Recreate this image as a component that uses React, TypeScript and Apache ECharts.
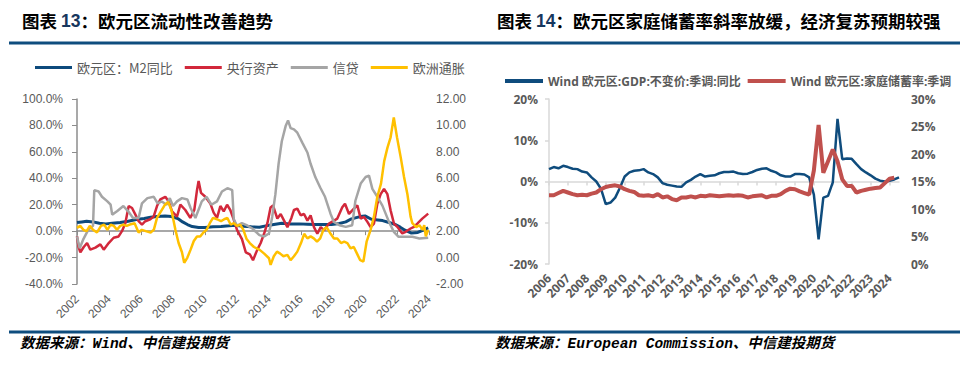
import React, { useEffect, useRef } from 'react';
import * as echarts from 'echarts';

// ---------- Chart 13 data (x = year position, value) ----------
const m2Yoy: [number, number][] = [
  [2002.0, 6.5], [2002.3, 7.0], [2002.6, 7.5], [2003.0, 7.0], [2003.4, 6.0], [2003.8, 5.5],
  [2004.2, 6.0], [2004.7, 6.5], [2005.2, 7.5], [2005.7, 8.75], [2006.2, 9.5], [2006.6, 10.5],
  [2007.0, 11.0], [2007.5, 11.5], [2007.9, 11.0], [2008.3, 9.5], [2008.6, 7.0], [2008.9, 5.0],
  [2009.2, 3.5], [2009.6, 2.75], [2010.0, 2.75], [2010.5, 3.25], [2011.0, 3.5], [2011.5, 4.0],
  [2011.9, 4.5], [2012.4, 3.75], [2012.9, 3.25], [2013.4, 3.0], [2013.8, 4.0], [2014.3, 5.0],
  [2014.8, 6.0], [2015.3, 5.5], [2015.9, 5.5], [2016.4, 5.25], [2016.9, 5.0], [2017.4, 5.0],
  [2017.9, 5.0], [2018.4, 5.75], [2018.8, 7.0], [2019.1, 9.0], [2019.4, 10.0], [2019.7, 11.0],
  [2020.0, 11.5], [2020.4, 9.0], [2020.8, 8.5], [2021.1, 8.0], [2021.5, 6.5], [2021.9, 5.0],
  [2022.2, 3.0], [2022.5, 0.75], [2022.9, -1.5], [2023.3, -1.0], [2023.6, 0.5], [2023.95, 2.5],
];

const cbAssets: [number, number][] = [
  [2002.0, -4], [2002.1, -12], [2002.21, -16], [2002.42, -12], [2002.63, -9], [2002.83, -14],
  [2003.15, -12.5], [2003.46, -10], [2003.67, -14], [2003.98, -9], [2004.29, -5], [2004.6, -4],
  [2004.81, 0], [2005.02, 6], [2005.23, 19], [2005.44, 17.5], [2005.65, 12.5], [2005.85, 7.5],
  [2006.06, 5], [2006.27, 7.5], [2006.58, 9], [2006.79, 11], [2007.0, 19], [2007.21, 24],
  [2007.52, 26], [2007.73, 22.5], [2007.94, 15], [2008.25, 11], [2008.46, 20], [2008.77, 16],
  [2009.08, 10], [2009.33, 16], [2009.5, 31], [2009.6, 38], [2009.75, 29], [2010.02, 26],
  [2010.33, 21], [2010.54, 14], [2010.75, 10], [2010.96, 19], [2011.17, 15], [2011.38, 20],
  [2011.58, 16], [2011.79, 9], [2012.0, 1], [2012.31, -6], [2012.55, -16], [2012.8, -17.5],
  [2013.0, -22], [2013.27, -14], [2013.48, -9], [2013.69, -2], [2013.9, 6], [2014.1, 18],
  [2014.25, 19.5], [2014.52, 9.5], [2014.73, 13], [2014.94, 8], [2015.15, 3], [2015.4, 10],
  [2015.56, 16], [2015.77, 17], [2015.98, 12], [2016.19, 13], [2016.4, 8], [2016.6, 12],
  [2016.81, 3], [2017.02, -2], [2017.23, 3], [2017.44, 0.75], [2017.75, 5.75], [2018.06, 8],
  [2018.27, 9.5], [2018.58, 18], [2018.75, 20.75], [2019.0, 13], [2019.31, 17], [2019.52, 19.5],
  [2019.73, 9.5], [2019.94, 10.75], [2020.15, 7], [2020.35, 3], [2020.56, 5.75], [2020.77, 20.75],
  [2020.98, 28], [2021.19, 32], [2021.4, 28], [2021.6, 15.75], [2021.81, 5.75], [2022.02, 3.25],
  [2022.33, -1.75], [2022.54, -0.5], [2022.85, 2], [2023.06, 3.25], [2023.27, 5.75], [2023.58, 9.5],
  [2023.95, 13.25],
];

const credit: [number, number][] = [
  [2002.0, -4], [2002.17, -13], [2002.4, -6], [2002.7, 1], [2003.0, 4], [2003.08, 31],
  [2003.35, 30], [2003.56, 26], [2003.9, 22.5], [2004.1, 20], [2004.2, 12.5], [2004.5, 15],
  [2004.9, 19], [2005.2, 15], [2005.5, 10], [2005.85, 10], [2006.06, 21], [2006.4, 25],
  [2006.8, 26], [2007.04, 21], [2007.3, 22.5], [2007.6, 20], [2007.8, 25], [2008.0, 19],
  [2008.25, 22.5], [2008.56, 25], [2008.9, 24], [2009.1, 17.5], [2009.4, 10], [2009.8, 22.5],
  [2010.1, 26], [2010.4, 20], [2010.75, 22.5], [2011.06, 30], [2011.4, 32.5], [2011.7, 31],
  [2011.8, 9], [2012.0, 4], [2012.3, 6], [2012.6, 4.5], [2012.96, 2], [2013.4, -3],
  [2013.7, -4], [2014.0, -1.75], [2014.2, 10.75], [2014.4, 28], [2014.6, 51], [2014.8, 68],
  [2015.04, 79.5], [2015.19, 83.75], [2015.35, 78], [2015.56, 77], [2015.77, 74.5], [2016.08, 67],
  [2016.4, 59.5], [2016.6, 51], [2016.9, 40.75], [2017.2, 33], [2017.5, 26], [2017.85, 13],
  [2018.06, 7], [2018.4, 4.5], [2018.8, 3.25], [2019.2, 4.5], [2019.4, 23], [2019.73, 36],
  [2020.04, 41], [2020.25, 42], [2020.46, 32], [2020.77, 26], [2021.08, 19.5], [2021.5, 7],
  [2021.8, -0.5], [2022.1, -4.25], [2022.55, -4.25], [2022.96, -4.25], [2023.4, -5.5], [2023.95, -5],
];

const hicp: [number, number][] = [
  [2002.0, 2.25], [2002.2, 2.4], [2002.4, 2.1], [2002.6, 2.0], [2002.8, 2.4], [2003.0, 2.1],
  [2003.25, 1.9], [2003.5, 2.4], [2003.7, 2.5], [2003.9, 2.1], [2004.1, 2.5], [2004.3, 2.4],
  [2004.5, 2.1], [2004.7, 2.4], [2004.9, 2.5], [2005.1, 2.4], [2005.3, 2.5], [2005.6, 2.6],
  [2005.85, 1.9], [2006.05, 2.1], [2006.3, 2.0], [2006.6, 1.9], [2006.8, 2.1], [2007.0, 3.0],
  [2007.2, 3.4], [2007.5, 4.0], [2007.7, 4.2], [2007.9, 3.6], [2008.15, 2.1], [2008.35, 1.1],
  [2008.56, 0.4], [2008.7, -0.4], [2008.9, 0.0], [2009.1, 0.6], [2009.3, 1.25], [2009.5, 1.6],
  [2009.7, 1.6], [2009.9, 1.9], [2010.1, 2.1], [2010.3, 2.6], [2010.5, 3.0], [2010.75, 2.9],
  [2011.0, 2.75], [2011.2, 2.9], [2011.4, 3.0], [2011.6, 2.5], [2011.8, 2.6], [2012.0, 2.4],
  [2012.2, 2.5], [2012.4, 2.1], [2012.6, 1.4], [2012.8, 1.1], [2013.06, 0.8], [2013.4, 0.6],
  [2013.7, 0.3], [2014.0, -0.05], [2014.1, -0.55], [2014.3, 0.1], [2014.5, 0.45], [2014.7, 0.3],
  [2014.9, 0.1], [2015.15, 0.2], [2015.35, -0.2], [2015.56, 0.1], [2015.77, 0.45], [2016.0, 1.1],
  [2016.2, 1.8], [2016.4, 1.45], [2016.6, 1.6], [2016.8, 1.45], [2017.0, 1.2], [2017.2, 1.45],
  [2017.4, 2.1], [2017.6, 2.3], [2017.85, 1.8], [2018.06, 1.45], [2018.27, 1.45], [2018.5, 1.1],
  [2018.7, 1.2], [2018.9, 1.1], [2019.1, 0.7], [2019.3, 0.8], [2019.5, 0.3], [2019.7, -0.2],
  [2019.9, -0.3], [2020.1, 1.2], [2020.35, 2.1], [2020.56, 3.1], [2020.77, 4.6], [2021.0, 5.6],
  [2021.2, 7.3], [2021.4, 8.3], [2021.6, 9.1], [2021.8, 10.6], [2022.0, 9.1], [2022.23, 7.6],
  [2022.44, 6.1], [2022.65, 4.8], [2022.85, 3.1], [2022.96, 2.6], [2023.2, 2.3], [2023.4, 2.45],
  [2023.6, 2.1], [2023.7, 2.45], [2023.8, 1.6], [2023.95, 2.1],
];

// ---------- Chart 14 data (quarterly from 2006Q1) ----------
const gdpYearLabels = [2006, 2007, 2008, 2009, 2010, 2011, 2012, 2013, 2014, 2015, 2016, 2017, 2018, 2019, 2020, 2021, 2022, 2023, 2024];
const gdpYoy = [
  3.0, 3.5, 3.2, 3.8, 3.5, 3.1, 3.0, 2.4, 2.2, 1.0, 0.0, -1.8, -5.5, -5.1, -3.9, -1.5,
  1.2, 2.2, 2.6, 2.7, 3.0, 2.2, 1.8, 1.0, -0.4, -0.8, -1.0, -1.2, -1.3, -0.2, 0.4, 1.2,
  1.8, 1.2, 1.4, 1.5, 2.0, 2.3, 2.3, 2.4, 2.0, 1.8, 1.9, 2.3, 2.8, 3.1, 3.2, 2.6,
  2.2, 1.5, 1.2, 1.2, 1.8, 1.8, 1.7, 1.0, -3.2, -14.0, -3.9, -3.5, -0.2, 15.2, 5.4, 5.6,
  5.5, 4.2, 3.0, 2.2, 1.5, 0.7, 0.2, 0.0, 0.2, 0.5, 1.0,
];
const savingRate = [
  12.5, 12.5, 12.9, 13.3, 13.0, 12.7, 12.5, 12.6, 12.5, 12.8, 13.0, 13.6, 14.0, 14.2, 14.3, 14.1,
  13.6, 13.3, 13.1, 12.5, 12.4, 12.5, 12.3, 12.7, 12.1, 12.3, 11.8, 11.6, 12.1, 12.1, 12.3, 12.1,
  12.4, 12.3, 12.5, 12.4, 12.3, 12.4, 12.5, 12.4, 12.5, 12.4, 12.1, 12.3, 12.4, 12.5, 12.1, 12.4,
  12.4, 12.7, 13.3, 13.7, 13.6, 13.2, 12.9, 12.6, 17.0, 25.3, 16.6, 18.7, 20.8, 18.7, 15.4, 14.2,
  14.2, 13.0, 13.3, 13.5, 13.7, 13.8, 13.9, 14.7, 15.5, 15.7,
];

const quarterCats = gdpYearLabels
  .flatMap((y) => ['Q1', 'Q2', 'Q3', 'Q4'].map((q) => `${y}${q}`))
  .slice(0, gdpYoy.length);

const NAVY = '#0E4D7E';
const GRAY_TEXT = '#595959';
const CJK = "'Noto Sans CJK SC', sans-serif";
const SANS = "'Liberation Sans', 'Noto Sans CJK SC', sans-serif";
const OPEN = "'Open Sans', 'Noto Sans CJK SC', sans-serif";

const option: any = {
  animation: false,
  backgroundColor: '#ffffff',
  legend: [
    {
      left: 35, top: 61, padding: 0, itemGap: 12, itemWidth: 37, itemHeight: 3, icon: 'rect',
      textStyle: { fontSize: 13, color: GRAY_TEXT, fontFamily: CJK },
      data: ['欧元区：M2同比', '央行资产', '信贷', '欧洲通胀'],
    },
    {
      left: 505, top: 75, padding: 0, itemGap: 7, itemWidth: 38, itemHeight: 4, icon: 'rect',
      textStyle: { fontSize: 12, color: GRAY_TEXT, fontFamily: OPEN, fontWeight: 'bold' },
      data: ['Wind 欧元区:GDP:不变价:季调:同比', 'Wind 欧元区:家庭储蓄率:季调'],
    },
  ],
  grid: [
    { left: 77, top: 99, width: 352, height: 185 },
    { left: 549, top: 99, width: 350, height: 165 },
  ],
  xAxis: [
    {
      gridIndex: 0, type: 'value', min: 2002, max: 2024, interval: 2, position: 'bottom',
      axisLine: { show: false, onZero: false }, axisTick: { show: false }, splitLine: { show: false },
      axisLabel: { rotate: 45, margin: 13, fontSize: 12, color: GRAY_TEXT, fontFamily: SANS, formatter: (v: number) => String(v) },
    },
    {
      gridIndex: 0, type: 'value', min: 2002, max: 2024, interval: 2, position: 'bottom',
      axisLine: { show: true, onZero: true, onZeroAxisIndex: 0, lineStyle: { color: '#8C8C8C', width: 1.5 } },
      axisTick: { show: true, length: 4, lineStyle: { color: '#8C8C8C' } },
      axisLabel: { show: false }, splitLine: { show: false },
    },
    {
      gridIndex: 1, type: 'category', data: quarterCats, boundaryGap: false, position: 'bottom',
      axisLine: { show: false, onZero: false }, axisTick: { show: false },
      axisLabel: {
        interval: 3, rotate: 45, margin: 12, fontSize: 12, fontWeight: 'bold', color: GRAY_TEXT, fontFamily: OPEN,
        formatter: (v: string) => v.slice(0, 4),
      },
    },
    {
      gridIndex: 1, type: 'category', data: quarterCats, boundaryGap: false, position: 'bottom',
      axisLine: { show: true, onZero: true, onZeroAxisIndex: 2, lineStyle: { color: '#D9D9D9', width: 1.5 } },
      axisTick: { show: true, interval: 3, length: 4, lineStyle: { color: '#D9D9D9', width: 1.5 } },
      axisLabel: { show: false },
    },
  ],
  yAxis: [
    {
      gridIndex: 0, type: 'value', position: 'left', min: -40, max: 100, interval: 20,
      axisLine: { show: true, lineStyle: { color: '#8C8C8C', width: 1.5 } },
      axisTick: { show: true, length: 5, lineStyle: { color: '#8C8C8C' } },
      splitLine: { show: false },
      axisLabel: { margin: 14, fontSize: 12, color: GRAY_TEXT, fontFamily: SANS, formatter: (v: number) => `${v.toFixed(1)}%` },
    },
    {
      gridIndex: 0, type: 'value', position: 'right', min: -2, max: 12, interval: 2,
      axisLine: { show: false }, axisTick: { show: false }, splitLine: { show: false },
      axisLabel: { margin: 7, fontSize: 12, color: GRAY_TEXT, fontFamily: SANS, formatter: (v: number) => v.toFixed(2) },
    },
    {
      gridIndex: 1, type: 'value', position: 'left', min: -20, max: 20, interval: 10,
      axisLine: { show: true, lineStyle: { color: '#D9D9D9', width: 1.5 } },
      axisTick: { show: true, length: 4, lineStyle: { color: '#D9D9D9', width: 1.5 } },
      splitLine: { show: false },
      axisLabel: { margin: 11, fontSize: 12, fontWeight: 'bold', color: GRAY_TEXT, fontFamily: OPEN, formatter: (v: number) => `${v}%` },
    },
    {
      gridIndex: 1, type: 'value', position: 'right', min: 0, max: 30, interval: 5,
      axisLine: { show: false }, axisTick: { show: false }, splitLine: { show: false },
      axisLabel: { margin: 12, fontSize: 12, fontWeight: 'bold', color: GRAY_TEXT, fontFamily: OPEN, formatter: (v: number) => `${v}%` },
    },
  ],
  series: [
    { name: '欧元区：M2同比', type: 'line', xAxisIndex: 0, yAxisIndex: 0, data: m2Yoy, showSymbol: false, symbol: 'none', color: '#0D4A7C', lineStyle: { width: 3, color: '#0D4A7C' } },
    { name: '央行资产', type: 'line', xAxisIndex: 0, yAxisIndex: 0, data: cbAssets, showSymbol: false, symbol: 'none', color: '#D2283B', lineStyle: { width: 2.5, color: '#D2283B' } },
    { name: '信贷', type: 'line', xAxisIndex: 0, yAxisIndex: 0, data: credit, showSymbol: false, symbol: 'none', color: '#A5A5A5', lineStyle: { width: 2.5, color: '#A5A5A5' } },
    { name: '欧洲通胀', type: 'line', xAxisIndex: 0, yAxisIndex: 1, data: hicp, showSymbol: false, symbol: 'none', color: '#FFC000', lineStyle: { width: 2.5, color: '#FFC000' } },
    { name: 'Wind 欧元区:GDP:不变价:季调:同比', type: 'line', xAxisIndex: 2, yAxisIndex: 2, data: gdpYoy, showSymbol: false, symbol: 'none', color: '#0F4C7D', lineStyle: { width: 2.5, color: '#0F4C7D' } },
    { name: 'Wind 欧元区:家庭储蓄率:季调', type: 'line', xAxisIndex: 2, yAxisIndex: 3, data: savingRate, showSymbol: false, symbol: 'none', color: '#C0504D', lineStyle: { width: 4, color: '#C0504D' } },
  ],
  graphic: [
    {
      type: 'text', left: 22, top: 12,
      style: {
        text: '{a|图表 }{b|13}{a|：欧元区流动性改善趋势}',
        rich: {
          a: { fontSize: 17.5, fontWeight: 'bold', fontFamily: CJK, fill: '#000000' },
          b: { fontSize: 17.5, fontWeight: 'bold', fontFamily: SANS, fill: '#17375E' },
        },
      },
    },
    {
      type: 'text', left: 497, top: 12,
      style: {
        text: '{a|图表 }{b|14}{a|：欧元区家庭储蓄率斜率放缓，经济复苏预期较强}',
        rich: {
          a: { fontSize: 17.5, fontWeight: 'bold', fontFamily: CJK, fill: '#000000' },
          b: { fontSize: 17.5, fontWeight: 'bold', fontFamily: SANS, fill: '#17375E' },
        },
      },
    },
    { type: 'line', shape: { x1: 9, y1: 43, x2: 960, y2: 43 }, style: { stroke: NAVY, lineWidth: 3 } },
    { type: 'line', shape: { x1: 9, y1: 332, x2: 960, y2: 332 }, style: { stroke: NAVY, lineWidth: 3 } },
    {
      type: 'text', left: 20, top: 337,
      style: {
        text: '数据来源：Wind、中信建投期货', fill: '#000000', fontSize: 14.5, fontWeight: 'bold', fontStyle: 'italic',
        fontFamily: "'Liberation Mono', 'Noto Sans CJK SC', monospace",
      },
    },
    {
      type: 'text', left: 495, top: 337,
      style: {
        text: '数据来源：European Commission、中信建投期货', fill: '#000000', fontSize: 14.5, fontWeight: 'bold', fontStyle: 'italic',
        fontFamily: "'Liberation Mono', 'Noto Sans CJK SC', monospace",
      },
    },
  ],
};

export default function App() {
  const ref = useRef<HTMLDivElement>(null);
  useEffect(() => {
    if (!ref.current) return;
    const chart = echarts.init(ref.current, null, { renderer: 'svg' });
    chart.setOption(option);
    return () => chart.dispose();
  }, []);
  return (
    <div
      ref={ref}
      style={{ position: 'fixed', left: 0, top: 0, width: 975, height: 365, background: '#ffffff' }}
    />
  );
}
